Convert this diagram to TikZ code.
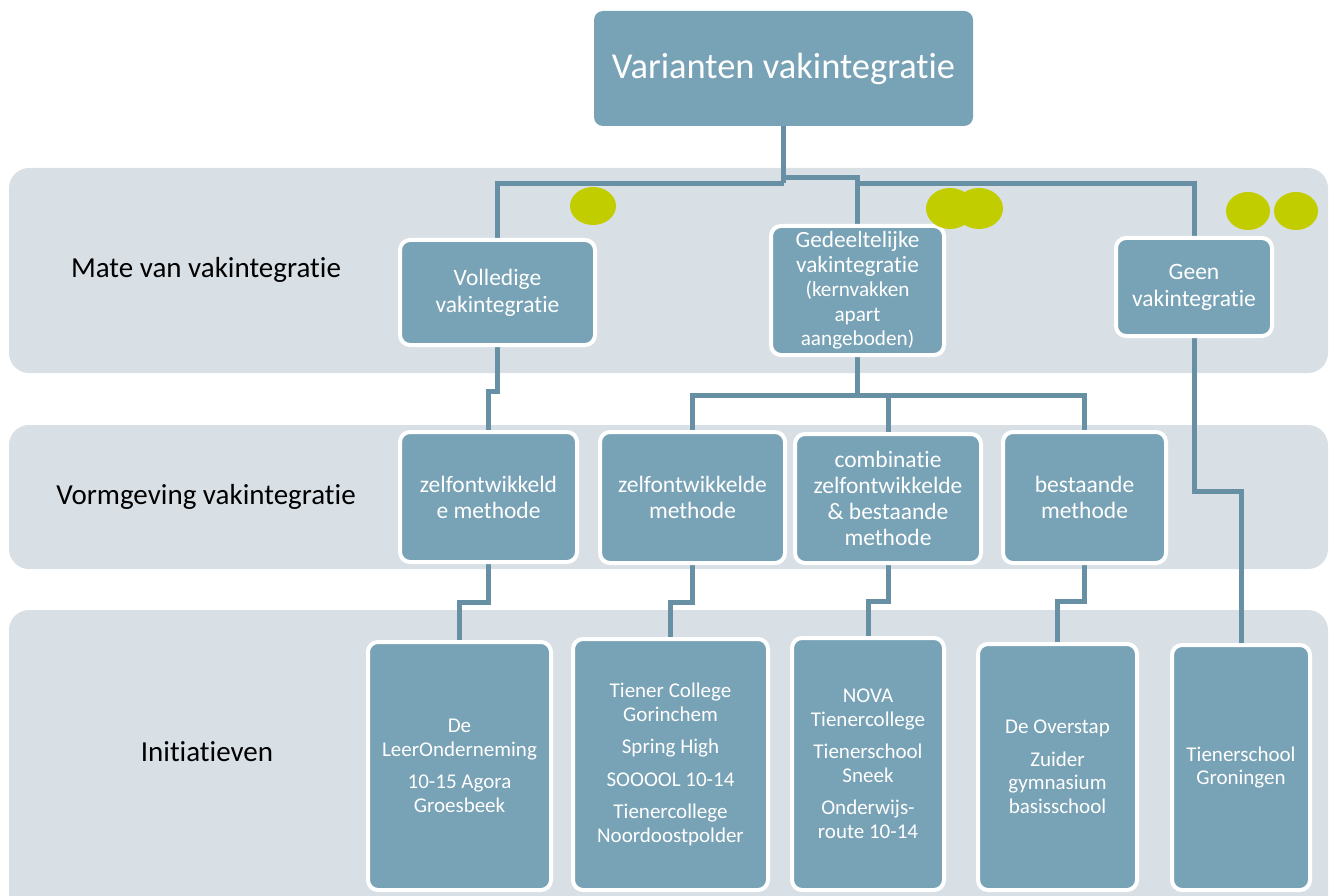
\documentclass[tikz,border=0pt]{standalone}
\usepackage{fontspec}
\setmainfont{Carlito}[Ligatures=NoCommon]
\usetikzlibrary{shapes.geometric}
\pgfdeclarelayer{bglayer}
\pgfdeclarelayer{midlayer}
\pgfsetlayers{bglayer,midlayer,main}
\definecolor{nodefill}{HTML}{78A2B5}
\definecolor{bandfill}{HTML}{D8E0E6}
\definecolor{linecol}{HTML}{6890A5}
\definecolor{dotgreen}{HTML}{C2CD00}
\newcommand{\bigln}[1]{{\fontsize{23.3}{25.5}\selectfont #1}}
\tikzset{
  band/.style={fill=bandfill, draw=none, rounded corners=20pt, minimum width=1319pt, inner sep=0pt},
  bandlabel/.style={text=black, font=\fontsize{29}{34}\selectfont, inner sep=0pt},
  topbox/.style={fill=nodefill, draw=none, rounded corners=9pt, text=white, inner sep=0pt,
    font=\fontsize{36.5}{42}\selectfont},
  box/.style={fill=nodefill, draw=white, line width=4pt, rounded corners=10pt, text=white,
    inner sep=0pt, align=center},
  lvone/.style={box, font=\fontsize{23.5}{27}\selectfont},
  lvged/.style={box, font=\fontsize{21.2}{24.5}\selectfont},
  lvtwo/.style={box, font=\fontsize{23.5}{26}\selectfont},
  lvthree/.style={box, font=\fontsize{21}{23.5}\selectfont},
  conn/.style={draw=linecol, line width=5pt},
  greendot/.style={ellipse, fill=dotgreen, draw=none, inner sep=0pt}
}
\begin{document}
\begin{tikzpicture}[x=1pt,y=-1pt]
\useasboundingbox (0,0) rectangle (1334,896);
\clip (0,0) rectangle (1334,896);
% bands
\begin{pgfonlayer}{bglayer}
\node[band, minimum height=205pt] (band1) at (668.5,270.5) {};
\node[band, minimum height=144pt] (band2) at (668.5,497) {};
\node[band, minimum height=330pt] (band3) at (668.5,775) {};
\end{pgfonlayer}
\node[bandlabel] (lab1) at (206,270) {Mate van vakintegratie};
\node[bandlabel] (lab2) at (206,497) {Vormgeving vakintegratie};
\node[bandlabel] (lab3) at (207,752) {Initiatieven};
% nodes
\node[topbox, minimum width=379pt, minimum height=115pt] (top) at (783.5,68.5) {Varianten vakintegratie};
\node[lvone, minimum width=195pt, minimum height=105pt] (vol) at (497.5,292.5) {Volledige\\vakintegratie};
\node[lvged, minimum width=173pt, minimum height=129pt] (ged) at (857.5,290.5)
  {\bigln{Gedeeltelijke}\\\bigln{vakintegratie}\\(kernvakken\\apart\\aangeboden)};
\node[lvone, minimum width=156pt, minimum height=98pt] (geen) at (1194,287) {Geen\\vakintegratie};
\node[lvtwo, minimum width=177pt, minimum height=130pt] (ztwa) at (488.5,497) {zelfontwikkeld\\e methode};
\node[lvtwo, minimum width=185pt, minimum height=131pt] (ztwb) at (692.5,497.5) {zelfontwikkelde\\methode};
\node[lvtwo, minimum width=186pt, minimum height=129pt] (comb) at (888,498.5) {combinatie\\zelfontwikkelde\\\& bestaande\\methode};
\node[lvtwo, minimum width=163pt, minimum height=131pt] (best) at (1084.5,497.5) {bestaande\\methode};
\node[lvthree, minimum width=183pt, minimum height=248pt] (ia) at (459.5,766) {De\\LeerOnderneming\\[9pt]10-15 Agora\\Groesbeek};
\node[lvthree, minimum width=195pt, minimum height=251pt] (ib) at (670.5,764.5) {Tiener College\\Gorinchem\\[9pt]Spring High\\[9pt]SOOOOL 10-14\\[9pt]Tienercollege\\Noordoostpolder};
\node[lvthree, minimum width=152pt, minimum height=252pt] (ic) at (868,764) {NOVA\\Tienercollege\\[9pt]Tienerschool\\Sneek\\[9pt]Onderwijs-\\route 10-14};
\node[lvthree, minimum width=159pt, minimum height=246pt] (id) at (1057.5,767) {De Overstap\\[9pt]Zuider\\gymnasium\\basisschool};
\node[lvthree, minimum width=138pt, minimum height=245pt] (ie) at (1241,767.5) {Tienerschool\\Groningen};
% green dots
\node[greendot, minimum width=46pt, minimum height=38pt] (g1) at (593,206) {};
\node[greendot, minimum width=48pt, minimum height=41pt] (g2) at (950,208.5) {};
\node[greendot, minimum width=48pt, minimum height=41pt] (g3) at (979,208.5) {};
\node[greendot, minimum width=44pt, minimum height=38pt] (g4) at (1248,211) {};
\node[greendot, minimum width=44pt, minimum height=38pt] (g5) at (1296,211) {};
% connectors (behind the boxes)
\begin{pgfonlayer}{midlayer}
\draw[conn] (top.south) -- ++(0,57) coordinate (j0);
\draw[conn] (j0) -| (vol.north);
\draw[conn] ([yshift=6pt]j0) -| (ged.north);
\draw[conn] ([xshift=72pt]j0) -| (geen.north);
\draw[conn] (vol.south) -- ++(0,44) -| (ztwa.north);
\draw[conn] (ged.south) -- ++(0,38) coordinate (j1);
\draw[conn] (j1) -| (ztwb.north);
\draw[conn] (j1) -| (comb.north);
\draw[conn] (j1) -| (best.north);
\draw[conn] (geen.south) -- ++(0,153) -| (ie.north);
\draw[conn] (ztwa.south) -- ++(0,38) -| (ia.north);
\draw[conn] (ztwb.south) -- ++(0,37) -| (ib.north);
\draw[conn] (comb.south) -- ++(0,36) -| (ic.north);
\draw[conn] (best.south) -- ++(0,36) -| (id.north);
\end{pgfonlayer}
\end{tikzpicture}
\end{document}
